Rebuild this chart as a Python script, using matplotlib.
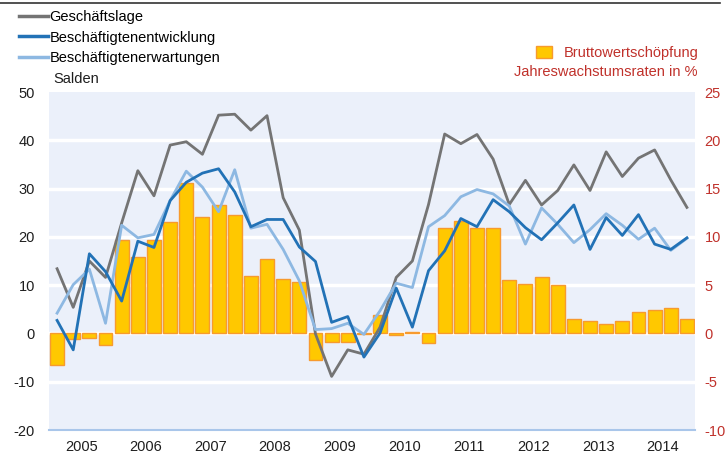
import numpy as np
import matplotlib.pyplot as plt
from matplotlib.lines import Line2D
from matplotlib.patches import Patch

plt.rcParams['font.family'] = ['Liberation Sans', 'DejaVu Sans']
plt.rcParams['axes.unicode_minus'] = False

years = [str(y) for y in range(2005, 2015)]

# Bruttowertschoepfung, Jahreswachstumsraten in % (right axis)
bws = [-3.3, -0.6, -0.5, -1.15,
       9.65, 7.9, 9.65, 11.5,
       15.6, 12.1, 13.25, 12.25,
       5.9, 7.7, 5.6, 5.35,
       -2.8, -0.9, -0.9, -0.1,
       1.9, -0.2, 0.15, -0.95,
       10.9, 11.6, 10.9, 10.9,
       5.55, 5.1, 5.8, 5.0,
       1.5, 1.25, 0.95, 1.25,
       2.25, 2.4, 2.65, 1.45]

# Salden (left axis)
geschaeftslage = [13.4, 5.4, 15.0, 11.6,
                  22.9, 33.7, 28.5, 39.0,
                  39.7, 37.1, 45.2, 45.4,
                  42.1, 45.1, 28.1, 21.4,
                  -0.1, -8.9, -3.4, -4.3,
                  1.3, 11.6, 15.0, 26.7,
                  41.3, 39.3, 41.2, 36.1,
                  26.7, 31.7, 26.6, 29.6,
                  34.9, 29.6, 37.6, 32.5,
                  36.3, 38.0, 31.8, 26.1]

entwicklung = [2.7, -3.4, 16.5, 12.8,
               6.7, 19.1, 17.8, 27.5,
               31.3, 33.2, 34.1, 29.3,
               22.1, 23.6, 23.6, 17.9,
               14.9, 2.3, 3.5, -4.9,
               0.1, 9.4, 1.3, 13.0,
               17.1, 23.8, 22.1, 27.7,
               25.2, 21.9, 19.4, 22.9,
               26.6, 17.4, 24.0, 20.3,
               24.6, 18.5, 17.4, 19.8]

erwartungen = [4.2, 10.1, 13.3, 2.1,
               22.4, 19.8, 20.5, 27.5,
               33.6, 30.3, 25.2, 33.9,
               21.8, 22.6, 17.4, 10.9,
               0.8, 1.0, 2.1, -0.2,
               4.7, 10.4, 9.5, 22.1,
               24.4, 28.3, 29.8, 28.9,
               26.4, 18.5, 26.0, 22.6,
               18.8, 21.5, 24.8, 22.4,
               19.5, 21.8, 17.2, 19.7]

c_gray = '#747474'
c_dark = '#2272B6'
c_light = '#8DB8E2'
c_bar = '#FFC800'
c_edge = '#F79A2E'
c_red = '#C0312B'
c_axis = '#A9C6EA'
c_text = '#1E1E1E'

fig = plt.figure(figsize=(7.28, 4.62), dpi=100)
ax = fig.add_axes([49 / 728, 1 - 430 / 462, 646 / 728, 338 / 462])
ax2 = ax.twinx()

x = np.arange(len(bws))

# grid + background on the bar axes
ax.set_facecolor('#EBF0FA')
for v in [-5, 0, 5, 10, 15, 20]:
    ax.axhline(v, color='white', lw=2.5, zorder=0)

ax.bar(x, bws, width=0.86, color=c_bar, edgecolor=c_edge, lw=1.0, zorder=2)
ax.set_ylim(-10, 25)
ax.set_xlim(-0.5, len(bws) - 0.5)
ax.yaxis.tick_right()
ax.set_yticks(range(-10, 26, 5))
ax.tick_params(axis='y', length=0, labelsize=10.5, labelcolor=c_red, pad=7)

ax2.plot(x, geschaeftslage, color=c_gray, lw=2.0, zorder=3)
ax2.plot(x, erwartungen, color=c_light, lw=2.0, zorder=4)
ax2.plot(x, entwicklung, color=c_dark, lw=2.0, zorder=5)
ax2.set_ylim(-20, 50)
ax2.yaxis.tick_left()
ax2.set_yticks(range(-20, 51, 10))
ax2.tick_params(axis='y', length=0, labelsize=10.5, labelcolor=c_text, pad=10)

for a in (ax, ax2):
    for s in ['top', 'left', 'right']:
        a.spines[s].set_visible(False)
ax.spines['bottom'].set_color(c_axis)
ax.spines['bottom'].set_linewidth(1.5)
ax2.spines['bottom'].set_visible(False)

ax.set_xticks(np.arange(-0.5, len(bws), 4))
ax.set_xticklabels([])
ax.set_xticks(np.arange(1.5, len(bws), 4), minor=True)
ax.set_xticklabels(years, minor=True)
ax.tick_params(axis='x', which='major', length=5, width=1.2, color=c_axis)
ax.tick_params(axis='x', which='minor', length=0, labelsize=10.5,
               labelcolor=c_text, pad=7)
ax2.set_xticks([])

# top rule
fig.add_artist(Line2D([0, 720 / 728], [1 - 3 / 462, 1 - 3 / 462],
                      color='#333333', lw=1.2))

handles = [Line2D([], [], color=c_gray, lw=2.5),
           Line2D([], [], color=c_dark, lw=2.5),
           Line2D([], [], color=c_light, lw=2.5)]
labels = ['Geschäftslage', 'Beschäftigtenentwicklung', 'Beschäftigtenerwartungen']
fig.legend(handles, labels, loc='upper left', bbox_to_anchor=(19 / 728, 1 - 10 / 462),
           frameon=False, fontsize=10.5, handlelength=2.0, handletextpad=0.1,
           labelspacing=0.45, borderaxespad=0, borderpad=0)
fig.text(53 / 728, 1 - 79 / 462, 'Salden', fontsize=10.5, color=c_text,
         va='center', ha='left')

fig.legend([Patch(facecolor=c_bar, edgecolor=c_edge)], ['Bruttowertschöpfung'],
           loc='center right', bbox_to_anchor=(699 / 728, 1 - 53 / 462),
           frameon=False, fontsize=10.5, labelcolor=c_red, handlelength=1.1,
           handleheight=0.8, handletextpad=0.8, borderaxespad=0, borderpad=0)
fig.text(697 / 728, 1 - 72 / 462, 'Jahreswachstumsraten in %', fontsize=10.5,
         color=c_red, ha='right', va='center')

fig.savefig('out.png', dpi=100)
